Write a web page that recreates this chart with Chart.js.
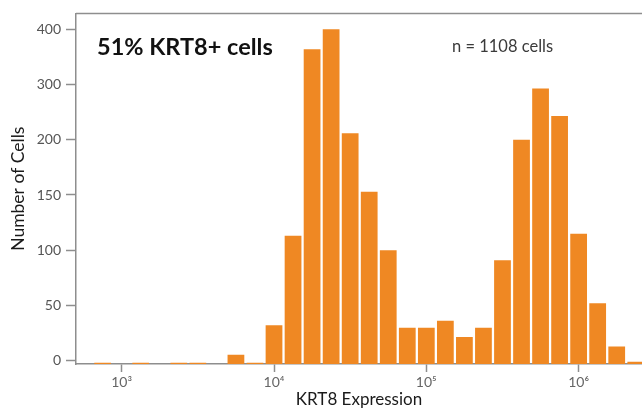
<!DOCTYPE html>
<html>
<head>
<meta charset="utf-8">
<script src="https://cdn.jsdelivr.net/npm/chart.js@4"></script>
<style>
  html, body { margin: 0; padding: 0; background: #fff; }
  #wrap { width: 642px; height: 410px; }
</style>
</head>
<body>
<div id="wrap"><canvas id="hist" width="642" height="410"></canvas></div>
<script>
// histogram bins, centre of each bin as log10(KRT8 expression)
const binExponents = [2.875, 3.0, 3.125, 3.25, 3.375, 3.5, 3.625, 3.75, 3.875,
  4.0, 4.125, 4.25, 4.375, 4.5, 4.625, 4.75, 4.875,
  5.0, 5.125, 5.25, 5.375, 5.5, 5.625, 5.75, 5.875,
  6.0, 6.125, 6.25, 6.375];
// number of cells per bin (null = empty bin)
const cellCounts = [1, null, 1, null, 1, 1, null, 8, 1,
  33, 113, 364, 400, 212, 153, 100, 31,
  31, 37, 23, 31, 91, 200, 293, 243,
  115, 52, 15, 2];

// y axis as printed: evenly spaced ticks with these labels
const yTickLabels = ['0', '50', '100', '150', '200', '300', '400'];
const yTickCounts = [0, 50, 100, 150, 200, 300, 400];
const xTickExponents = [3, 4, 5, 6];

const titleText = '51% KRT8+ cells';
const noteText = 'n = 1108 cells';
const barColor = '#ef8823';
const axisColor = '#8e8e8e';

const yMin = -0.06;
const yMax = 6.288;

// place a count on the printed (piecewise) y axis
function countToAxis(c) {
  if (c === null) return null;
  for (let i = 1; i < yTickCounts.length; i++) {
    if (c <= yTickCounts[i] || i === yTickCounts.length - 1) {
      const lo = i === 1 ? yMin : i - 1;
      const t = (c - yTickCounts[i - 1]) / (yTickCounts[i] - yTickCounts[i - 1]);
      return lo + t * (i - lo);
    }
  }
}

const sup = { 3: '\u00b3', 4: '\u2074', 5: '\u2075', 6: '\u2076' };

const frameAndText = {
  id: 'frameAndText',
  afterDraw(chart) {
    const { ctx, chartArea } = chart;
    ctx.save();
    ctx.strokeStyle = axisColor;
    ctx.lineWidth = 1.5;
    ctx.beginPath();
    ctx.moveTo(chartArea.left, chartArea.top);
    ctx.lineTo(chartArea.right, chartArea.top);
    ctx.stroke();

    ctx.fillStyle = '#111';
    ctx.font = "bold 23.5px Lato, 'Open Sans', sans-serif";
    ctx.textBaseline = 'alphabetic';
    ctx.fillText(titleText, 97, 55);

    ctx.fillStyle = '#3a3a3a';
    ctx.font = "16.5px Lato, 'Open Sans', sans-serif";
    ctx.fillText(noteText, 452, 52);
    ctx.restore();
  }
};

new Chart(document.getElementById('hist'), {
  type: 'bar',
  data: {
    datasets: [{
      data: binExponents.map((e, i) => ({ x: Math.pow(10, e), y: countToAxis(cellCounts[i]) })),
      backgroundColor: barColor,
      borderWidth: 0,
      base: yMin,
      barPercentage: 0.88,
      categoryPercentage: 1.0
    }]
  },
  options: {
    responsive: false,
    animation: false,
    layout: { padding: { top: 13, right: 0, left: 0, bottom: 0 } },
    plugins: {
      legend: { display: false },
      tooltip: { enabled: false }
    },
    scales: {
      x: {
        type: 'logarithmic',
        offset: false,
        min: Math.pow(10, 2.7),
        max: Math.pow(10, 6.416),
        afterBuildTicks: (scale) => {
          scale.ticks = xTickExponents.map(e => ({ value: Math.pow(10, e) }));
        },
        afterFit: (scale) => { scale.height = 46; },
        ticks: {
          autoSkip: false,
          maxRotation: 0,
          padding: 2,
          color: '#666',
          font: { family: "Lato, 'Open Sans', sans-serif", size: 14 },
          callback: (v) => '10' + sup[Math.round(Math.log10(v))]
        },
        grid: {
          display: true,
          drawOnChartArea: false,
          drawTicks: true,
          tickLength: 8,
          tickColor: axisColor,
          tickWidth: 1.5,
          offset: false
        },
        border: { display: true, color: axisColor, width: 1.5 },
        title: {
          display: true,
          text: 'KRT8 Expression',
          color: '#1a1a1a',
          font: { family: "Lato, 'Open Sans', sans-serif", size: 17 },
          padding: { top: 0, bottom: 0 }
        }
      },
      y: {
        type: 'linear',
        min: yMin,
        max: yMax,
        afterBuildTicks: (scale) => {
          scale.ticks = yTickLabels.map((_, i) => ({ value: i }));
        },
        afterFit: (scale) => { scale.width = 76; },
        ticks: {
          padding: 5,
          color: '#555',
          font: { family: "Lato, 'Open Sans', sans-serif", size: 14 },
          callback: (v) => yTickLabels[v]
        },
        grid: {
          display: true,
          drawOnChartArea: false,
          drawTicks: true,
          tickLength: 10,
          tickColor: axisColor,
          tickWidth: 1.5
        },
        border: { display: true, color: axisColor, width: 1.5 },
        title: {
          display: true,
          text: 'Number of Cells',
          color: '#1a1a1a',
          font: { family: "Lato, 'Open Sans', sans-serif", size: 17.5 },
          padding: { top: 8, bottom: 0 }
        }
      }
    }
  },
  plugins: [frameAndText]
});
</script>
</body>
</html>
